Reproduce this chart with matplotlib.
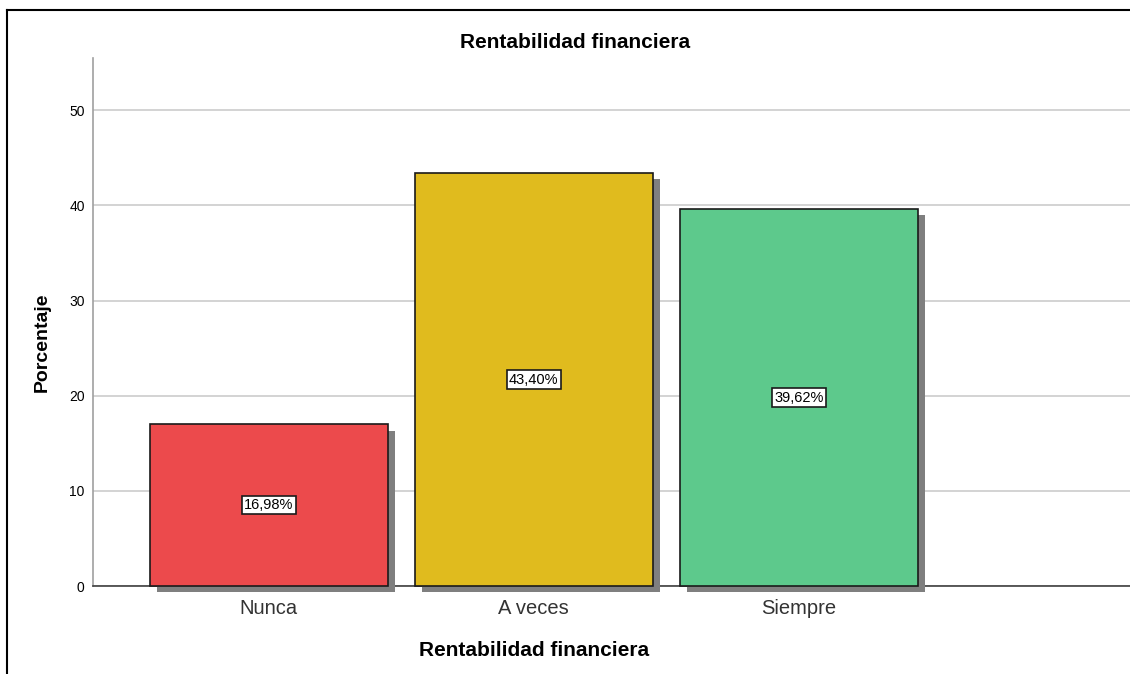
import matplotlib.pyplot as plt
import matplotlib.patheffects as pe
from matplotlib.lines import Line2D

plt.rcParams['font.family'] = ['Liberation Sans', 'DejaVu Sans']

categories = ["Nunca", "A veces", "Siempre"]
percentages = [16.98, 43.40, 39.62]
bar_colors = ["#EC4A4C", "#E0BB1E", "#5DC98C"]
yticks = [0, 10, 20, 30, 40, 50]


def main():
    fig = plt.figure(figsize=(11.3, 6.74), dpi=100)
    ax = fig.add_axes([93 / 1130, 1 - 586 / 674, 1 - 93 / 1130, (586 - 58) / 674])

    x = list(range(len(categories)))
    bars = ax.bar(x, percentages, width=0.9, color=bar_colors,
                  edgecolor="#1a1a1a", linewidth=1.2, zorder=3, clip_on=False)
    for b in bars:
        b.set_path_effects([pe.SimplePatchShadow(offset=(5, -4.5), shadow_rgbFace="#7f7f7f", alpha=1.0),
                            pe.Normal()])

    for xi, v in zip(x, percentages):
        ax.text(xi, v / 2, "{0:.2f}%".format(v).replace(".", ","), ha="center", va="center",
                fontsize=10.5, zorder=5,
                bbox=dict(boxstyle="square,pad=0.15", facecolor="white", edgecolor="#1a1a1a", linewidth=1.2))

    ax.set_xlim(-0.664, 3.25)
    ax.set_ylim(0, 55.5)
    ax.set_xticks(x)
    ax.set_xticklabels(categories, fontsize=14.5, color="#333333")
    ax.set_yticks(yticks)
    ax.set_yticklabels([str(t) for t in yticks], fontsize=10)
    ax.tick_params(axis="both", length=0)
    ax.tick_params(axis="y", pad=6)
    ax.tick_params(axis="x", pad=9)
    ax.yaxis.grid(True, color="#d0d0d0", linewidth=1.3)
    ax.set_axisbelow(True)

    for s in ["top", "right"]:
        ax.spines[s].set_visible(False)
    ax.spines["left"].set_color("#a0a0a0")
    ax.spines["bottom"].set_color("#404040")
    ax.spines["left"].set_linewidth(1.2)
    ax.spines["bottom"].set_linewidth(1.2)

    fig.text(575 / 1130, 1 - 42 / 674, "Rentabilidad financiera", ha="center", va="center",
             fontsize=15, fontweight="bold")
    fig.text(534 / 1130, 1 - 651 / 674, "Rentabilidad financiera", ha="center", va="center",
             fontsize=15, fontweight="bold")
    fig.text(42 / 1130, 1 - 342 / 674, "Porcentaje", ha="center", va="center",
             rotation=90, fontsize=14, fontweight="bold")

    # outer frame (top and left only)
    fig.add_artist(Line2D([6.5 / 1130, 1], [1 - 10 / 674, 1 - 10 / 674], color="black", linewidth=1.5))
    fig.add_artist(Line2D([6.5 / 1130, 6.5 / 1130], [0, 1 - 10 / 674], color="black", linewidth=1.5))

    fig.savefig("out.png", dpi=100)


if __name__ == '__main__': main()
